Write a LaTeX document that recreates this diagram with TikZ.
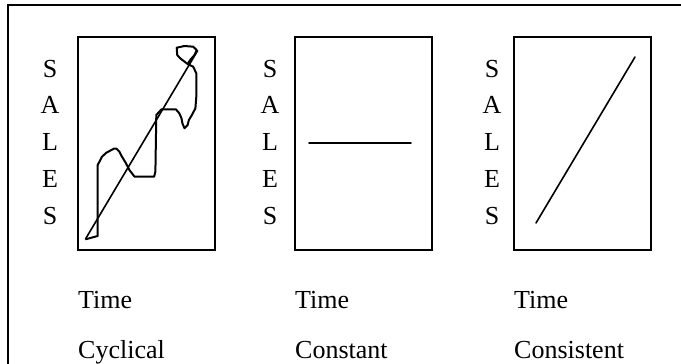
\documentclass[tikz,border=0pt]{standalone}
\usepackage{fontspec}
\setmainfont{Liberation Serif}
\tikzset{
  plotbox/.style={draw, line width=1.8pt, anchor=north west, inner sep=0pt,
    minimum width=137pt, minimum height=213pt},
  salesletter/.style={anchor=base, inner sep=0pt, font=\fontsize{26}{30}\selectfont},
  labeltext/.style={anchor=base west, inner sep=0pt, font=\fontsize{26}{30}\selectfont},
  trend/.style={line width=1.6pt, line cap=round}
}
\newcommand{\salesplot}[4]{%
 \foreach \ch [count=\i] in {S,A,L,E,S}
  \node (#1s\i) [salesletter] at ({#3},{40.2+36.8*\i}) {\ch};%
 \node (#1) [plotbox] at ({#2},36) {};%
 \node (#1t) [labeltext] at ({#2+1},308) {Time};%
 \node (#1c) [labeltext] at ({#2+1},358) {#4};%
}

\begin{document}
\begin{tikzpicture}[x=1pt, y=-1pt]
  \useasboundingbox (0,0) rectangle (681,364);
  \draw[line width=1.6pt] (8,370) -- (8,5) -- (690,5);
  \salesplot{cyc}{77}{50}{Cyclical};
  \salesplot{con}{294}{270}{Constant};
  \salesplot{cst}{513}{492}{Consistent};
  % cyclical
  \draw[trend] (85.5,239) -- (197.6,50.7);
  \draw[line width=2pt, line join=round] (85.5,239.3) -- (97.7,236) -- (97.7,165)
    -- (102,156.7) -- (106.4,152.7) -- (113.8,148.7) -- (116.4,148.7) -- (119.4,151.7)
    -- (121.6,156) -- (126,163.3) -- (129.4,170) -- (134.6,176.7) -- (154.1,176.7)
    -- (155.4,171.7) -- (156.3,115) -- (161.5,109.3) -- (175.9,109.3) -- (179.3,113.3)
    -- (181.5,118.3) -- (182.4,123.3) -- (184.5,128.3) -- (187.6,125) -- (188.9,120)
    -- (191.9,115) -- (195.4,108.3) -- (196.3,96.7) -- (196.3,73.3) -- (193.2,66.7)
    -- (187.6,64) -- (180.2,58.3) -- (177.2,55) -- (176.7,47.7) -- (184.5,46)
    -- (193.2,46.7) -- (196.7,50) -- (194.5,55) -- (190.2,60) -- (187.6,64);
  % constant
  \draw[trend] (309,143) -- (411,143);
  % consistent
  \draw[trend] (536,223) -- (635,57);
\end{tikzpicture}
\end{document}
